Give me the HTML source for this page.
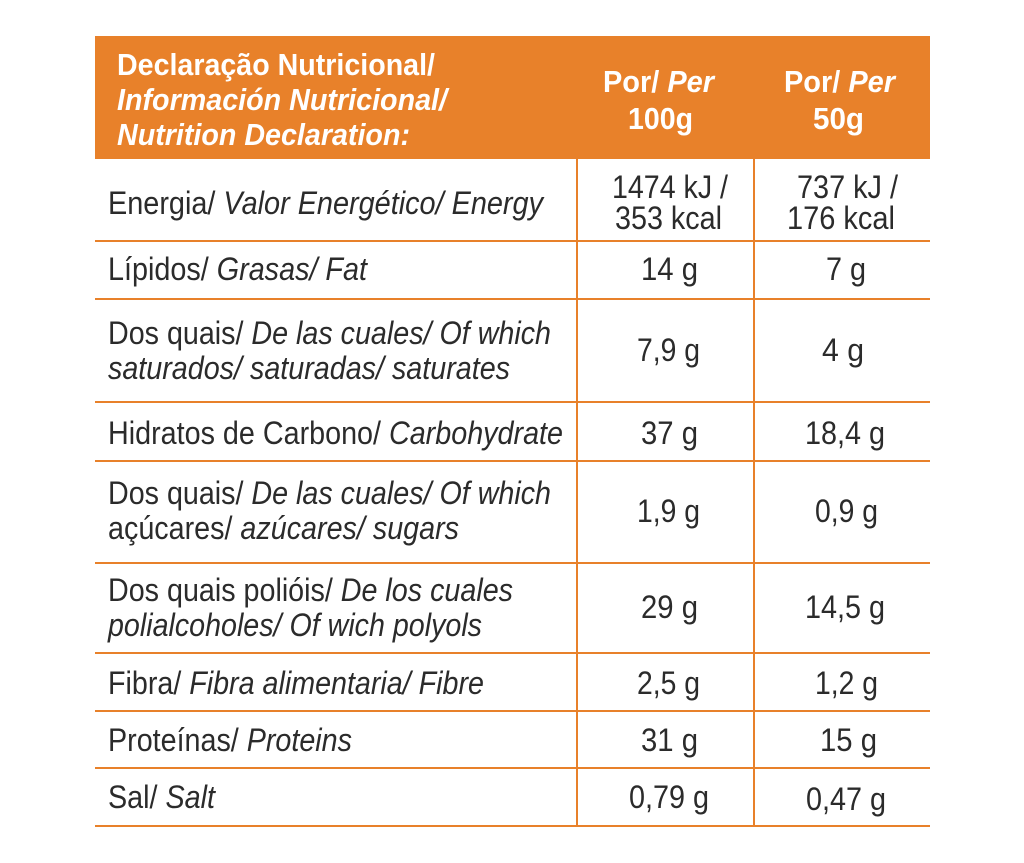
<!DOCTYPE html>
<html><head><meta charset="utf-8"><style>
html,body{margin:0;padding:0;background:#fff}
svg{display:block}
text{font-family:"Liberation Sans",Arial,sans-serif;font-size:32px;fill:#2b2b2b}
.h{fill:#fff;font-weight:bold;font-size:31px}
.i{font-style:italic}
</style></head><body>
<svg width="1024" height="863" xmlns="http://www.w3.org/2000/svg">
<rect x="95" y="36" width="835" height="123" fill="#e8812a"/>
<g stroke="#e8812a" stroke-width="2">
<line x1="95" y1="241" x2="930" y2="241"/>
<line x1="95" y1="299" x2="930" y2="299"/>
<line x1="95" y1="402" x2="930" y2="402"/>
<line x1="95" y1="461" x2="930" y2="461"/>
<line x1="95" y1="563" x2="930" y2="563"/>
<line x1="95" y1="653" x2="930" y2="653"/>
<line x1="95" y1="711" x2="930" y2="711"/>
<line x1="95" y1="768" x2="930" y2="768"/>
<line x1="95" y1="826" x2="930" y2="826"/>
<line x1="577" y1="158" x2="577" y2="826"/>
<line x1="754" y1="158" x2="754" y2="826"/>
</g>
<g lengthAdjust="spacingAndGlyphs">
<text class="h" x="117" y="75" textLength="318" lengthAdjust="spacingAndGlyphs">Declaração Nutricional/</text>
<text class="h i" x="117" y="110" textLength="330" lengthAdjust="spacingAndGlyphs">Información Nutricional/</text>
<text class="h i" x="117" y="145" textLength="293" lengthAdjust="spacingAndGlyphs">Nutrition Declaration:</text>
<text class="h" x="603" y="92" textLength="111" lengthAdjust="spacingAndGlyphs">Por/ <tspan class="i">Per</tspan></text>
<text class="h" x="628" y="129" textLength="65" lengthAdjust="spacingAndGlyphs">100g</text>
<text class="h" x="784" y="92" textLength="111" lengthAdjust="spacingAndGlyphs">Por/ <tspan class="i">Per</tspan></text>
<text class="h" x="813" y="129" textLength="51" lengthAdjust="spacingAndGlyphs">50g</text>

<text x="108" y="214" textLength="435" lengthAdjust="spacingAndGlyphs">Energia/ <tspan class="i">Valor Energético/ Energy</tspan></text>
<text x="108" y="280" textLength="259" lengthAdjust="spacingAndGlyphs">Lípidos/ <tspan class="i">Grasas/ Fat</tspan></text>
<text x="108" y="344" textLength="443" lengthAdjust="spacingAndGlyphs">Dos quais/ <tspan class="i">De las cuales/ Of which</tspan></text>
<text class="i" x="108" y="379" textLength="402" lengthAdjust="spacingAndGlyphs">saturados/ saturadas/ saturates</text>
<text x="108" y="444" textLength="455" lengthAdjust="spacingAndGlyphs">Hidratos de Carbono/ <tspan class="i">Carbohydrate</tspan></text>
<text x="108" y="504" textLength="443" lengthAdjust="spacingAndGlyphs">Dos quais/ <tspan class="i">De las cuales/ Of which</tspan></text>
<text x="108" y="539" textLength="351" lengthAdjust="spacingAndGlyphs">açúcares/ <tspan class="i">azúcares/ sugars</tspan></text>
<text x="108" y="601" textLength="405" lengthAdjust="spacingAndGlyphs">Dos quais polióis/ <tspan class="i">De los cuales</tspan></text>
<text class="i" x="108" y="636" textLength="374" lengthAdjust="spacingAndGlyphs">polialcoholes/ Of wich polyols</text>
<text x="108" y="694" textLength="376" lengthAdjust="spacingAndGlyphs">Fibra/ <tspan class="i">Fibra alimentaria/ Fibre</tspan></text>
<text x="108" y="751" textLength="244" lengthAdjust="spacingAndGlyphs">Proteínas/ <tspan class="i">Proteins</tspan></text>
<text x="108" y="808" textLength="107" lengthAdjust="spacingAndGlyphs">Sal/ <tspan class="i">Salt</tspan></text>

<text x="612" y="198" textLength="116" lengthAdjust="spacingAndGlyphs">1474 kJ /</text>
<text x="615" y="229" textLength="107" lengthAdjust="spacingAndGlyphs">353 kcal</text>
<text x="797" y="198" textLength="101" lengthAdjust="spacingAndGlyphs">737 kJ /</text>
<text x="787" y="229" textLength="108" lengthAdjust="spacingAndGlyphs">176 kcal</text>
<text x="641" y="280" textLength="57" lengthAdjust="spacingAndGlyphs">14 g</text>
<text x="826" y="280" textLength="40" lengthAdjust="spacingAndGlyphs">7 g</text>
<text x="637" y="361" textLength="63" lengthAdjust="spacingAndGlyphs">7,9 g</text>
<text x="822" y="361" textLength="42" lengthAdjust="spacingAndGlyphs">4 g</text>
<text x="641" y="444" textLength="57" lengthAdjust="spacingAndGlyphs">37 g</text>
<text x="805" y="444" textLength="80" lengthAdjust="spacingAndGlyphs">18,4 g</text>
<text x="637" y="522" textLength="63" lengthAdjust="spacingAndGlyphs">1,9 g</text>
<text x="815" y="522" textLength="63" lengthAdjust="spacingAndGlyphs">0,9 g</text>
<text x="641" y="618" textLength="57" lengthAdjust="spacingAndGlyphs">29 g</text>
<text x="805" y="618" textLength="80" lengthAdjust="spacingAndGlyphs">14,5 g</text>
<text x="637" y="694" textLength="63" lengthAdjust="spacingAndGlyphs">2,5 g</text>
<text x="815" y="694" textLength="63" lengthAdjust="spacingAndGlyphs">1,2 g</text>
<text x="641" y="751" textLength="57" lengthAdjust="spacingAndGlyphs">31 g</text>
<text x="820" y="751" textLength="57" lengthAdjust="spacingAndGlyphs">15 g</text>
<text x="629" y="808" textLength="80" lengthAdjust="spacingAndGlyphs">0,79 g</text>
<text x="806" y="810" textLength="80" lengthAdjust="spacingAndGlyphs">0,47 g</text>
</g>
</svg>
</body></html>
